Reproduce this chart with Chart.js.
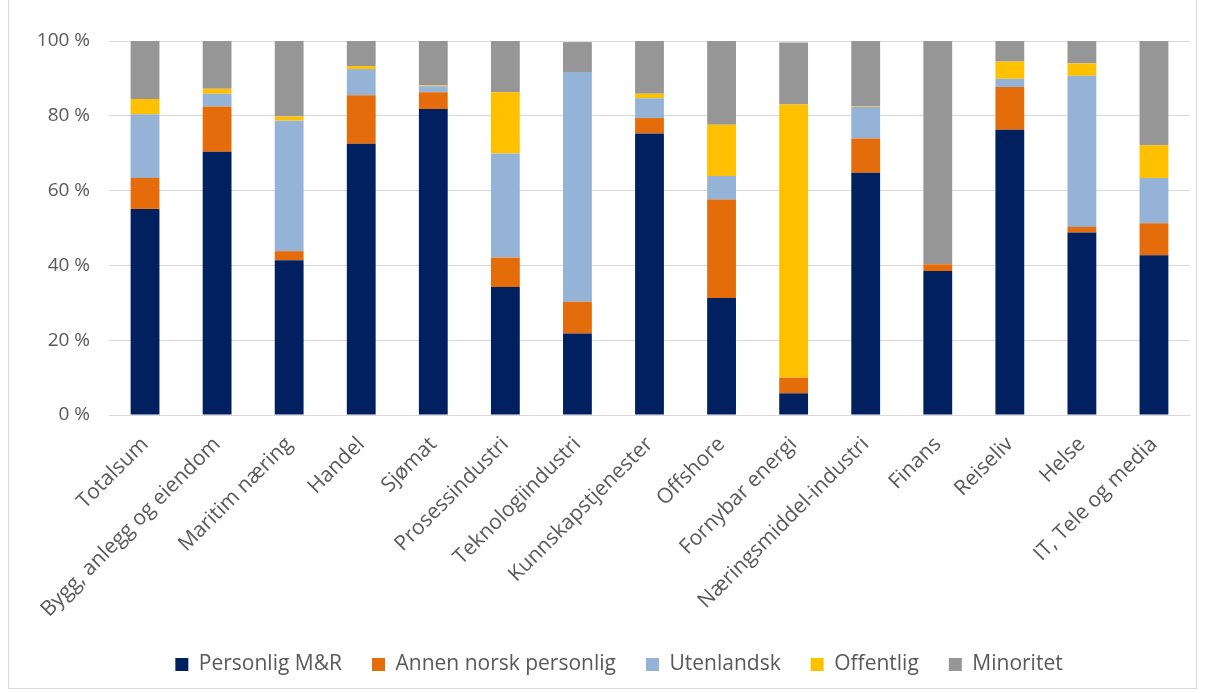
<!DOCTYPE html>
<html>
<head>
<meta charset="utf-8">
<script src="https://cdn.jsdelivr.net/npm/chart.js@4/dist/chart.umd.min.js"></script>
<style>
  html, body { margin: 0; padding: 0; background: #ffffff; }
  #wrap { position: absolute; left: 8px; top: -1px; width: 1189px; height: 690px; border: 1px solid #d9d9d9; box-sizing: border-box; }
  #c { position: absolute; left: 0; top: 0; }
</style>
</head>
<body>
<div id="wrap"></div>
<canvas id="c" width="1206" height="693"></canvas>
<script>
const categories = ["Totalsum", "Bygg, anlegg og eiendom", "Maritim næring", "Handel", "Sjømat", "Prosessindustri", "Teknologiindustri", "Kunnskapstjenester", "Offshore", "Fornybar energi", "Næringsmiddel-industri", "Finans", "Reiseliv", "Helse", "IT, Tele og media"];
const personligMR   = [55.1, 70.4, 41.4, 72.5, 81.8, 34.2, 21.8, 75.3, 31.3, 5.8, 64.8, 38.5, 76.3, 48.8, 42.7];
const annenNorsk    = [8.3, 12.1, 2.4, 13.0, 4.5, 7.9, 8.5, 4.1, 26.3, 4.2, 9.1, 1.8, 11.4, 1.5, 8.6];
const utenlandsk    = [17.0, 3.4, 34.9, 7.0, 1.6, 27.8, 61.4, 5.3, 6.3, 0, 8.5, 0, 2.2, 40.4, 12.1];
const offentlig     = [4.1, 1.3, 1.1, 0.8, 0.2, 16.4, 0, 1.2, 13.7, 73.0, 0.2, 0, 4.6, 3.3, 8.7];
const minoritet     = [15.5, 12.8, 20.2, 6.7, 11.9, 13.7, 8.0, 14.1, 22.4, 16.6, 17.4, 59.7, 5.5, 6.0, 27.9];
const seriesNames   = ["Personlig M&R", "Annen norsk personlig", "Utenlandsk", "Offentlig", "Minoritet"];
const yTicks        = [0, 20, 40, 60, 80, 100];

const colors = ["#002060", "#E46C0A", "#95B3D7", "#FFC000", "#969696"];
const values = [personligMR, annenNorsk, utenlandsk, offentlig, minoritet];
const textColor = "#595959";
const FONT = "'Open Sans', 'DejaVu Sans', sans-serif";

const legendShift = {
  id: 'legendShift',
  afterLayout(chart) {
    if (chart.legend) { chart.legend.left += 10; chart.legend.right += 10; }
  }
};

new Chart(document.getElementById('c'), {
  type: 'bar',
  data: {
    labels: categories,
    datasets: values.map((v, i) => ({
      label: seriesNames[i],
      data: v,
      backgroundColor: colors[i],
      borderWidth: 0,
      barPercentage: 0.4,
      categoryPercentage: 1.0
    }))
  },
  plugins: [legendShift],
  options: {
    responsive: false,
    animation: false,
    layout: { padding: { left: 28, right: 16, top: 41, bottom: 8 } },
    plugins: {
      legend: {
        position: 'bottom',
        labels: {
          color: textColor,
          font: { family: FONT, size: 21 },
          boxWidth: 13,
          boxHeight: 13,
          padding: 30
        }
      },
      tooltip: { enabled: false }
    },
    scales: {
      x: {
        stacked: true,
        grid: { display: false },
        border: { display: true, color: '#d9d9d9', width: 1 },
        afterFit: (axis) => { axis.height = 209; },
        ticks: {
          color: textColor,
          font: { family: FONT, size: 21 },
          maxRotation: 45,
          minRotation: 45,
          autoSkip: false,
          padding: 9
        }
      },
      y: {
        stacked: true,
        min: 0,
        max: 100,
        afterFit: (axis) => { axis.width = 81; },
        afterBuildTicks: (axis) => { axis.ticks = yTicks.map(v => ({ value: v })); },
        grid: { color: '#d9d9d9', lineWidth: 1, drawTicks: false },
        border: { display: false },
        ticks: {
          color: textColor,
          font: { family: FONT, size: 19 },
          padding: 19,
          callback: (v) => v + ' %'
        }
      }
    }
  }
});
</script>
</body>
</html>
